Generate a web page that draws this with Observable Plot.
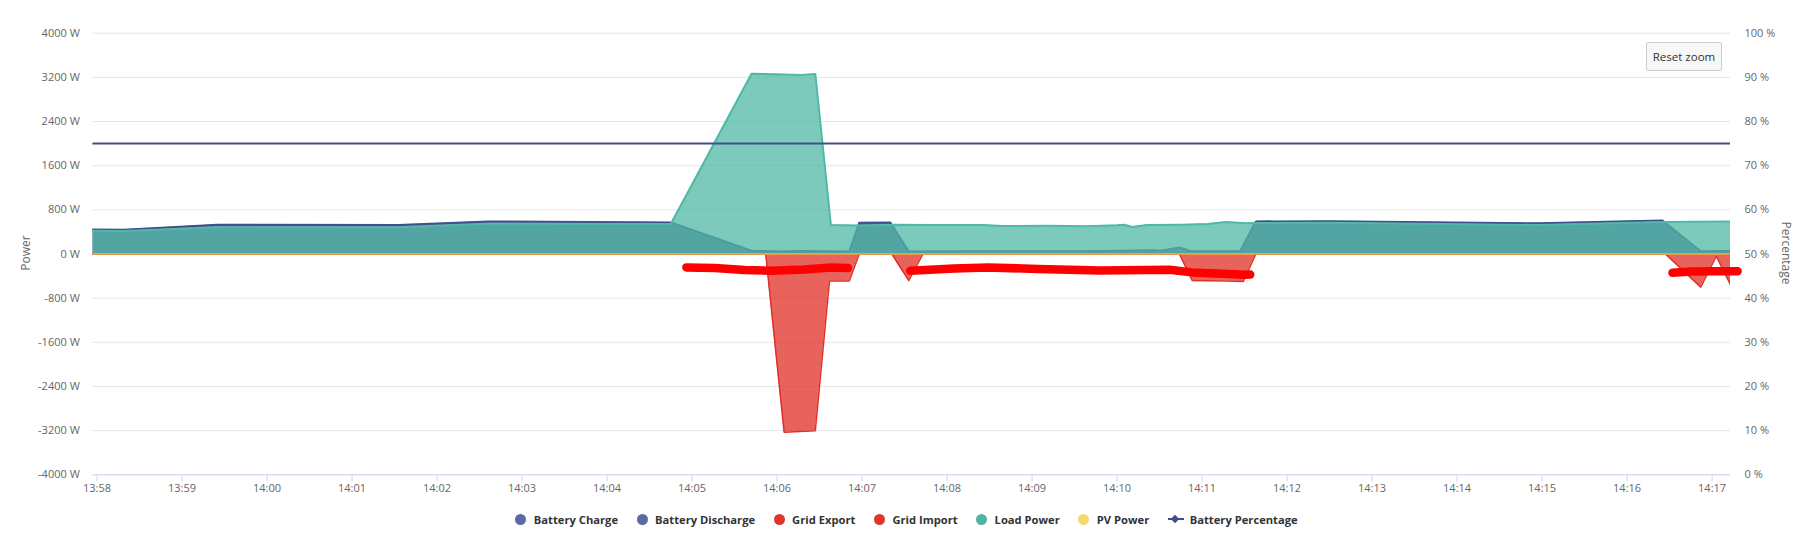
<!DOCTYPE html>
<html>
<head>
<meta charset="utf-8">
<script src="https://cdn.jsdelivr.net/npm/d3@7"></script>
<script src="https://cdn.jsdelivr.net/npm/@observablehq/plot@0.6"></script>
<style>
  html, body { margin: 0; padding: 0; background: #fff; }
  #wrap { position: relative; width: 1813px; height: 533px; font-family: "Open Sans", sans-serif; }
  #chart { position: absolute; left: 0; top: 0; }
  .ytitle { position: absolute; font-size: 12px; color: #666; white-space: nowrap; }
  #legend { position: absolute; left: 0; top: 509px; width: 1813px; height: 20px; display: flex; justify-content: center; align-items: center; }
  .item { display: flex; align-items: center; margin-right: 18.5px; font-size: 11.2px; font-weight: 700; color: #333; }
  .item:last-child { margin-right: 0; }
  .dot { width: 11px; height: 11px; border-radius: 50%; margin-right: 7.5px; }
  .sym { position: relative; width: 16px; height: 11px; margin-right: 6px; }
  .sym .ln { position: absolute; left: 0; top: 4.5px; width: 16px; height: 2px; }
  .sym .dm { position: absolute; left: 4.5px; top: 2.5px; width: 6px; height: 6px; transform: rotate(45deg); }
  #reset { position: absolute; left: 1646px; top: 42px; width: 74px; height: 27px; border: 1px solid #cccccc; border-radius: 2px; background: #f7f7f7; color: #333; font-size: 11.5px; display: flex; align-items: center; justify-content: center; }
</style>
</head>
<body>
<div id="wrap">
  <div id="chart"></div>
  <div class="ytitle" style="left:25px; top:253px; transform: translate(-50%,-50%) rotate(-90deg);">Power</div>
  <div class="ytitle" style="left:1786px; top:253px; transform: translate(-50%,-50%) rotate(90deg);">Percentage</div>
  <div id="reset">Reset zoom</div>
  <div id="legend"></div>
</div>
<script>
// ---------- data (time "HH:MM:SS", watts) ----------
const xDomain = ["13:57:57", "14:17:13"];
const xTickLabels = ["13:58","13:59","14:00","14:01","14:02","14:03","14:04","14:05","14:06","14:07","14:08","14:09","14:10","14:11","14:12","14:13","14:14","14:15","14:16","14:17"];
const yTicks = [-4000,-3200,-2400,-1600,-800,0,800,1600,2400,3200,4000];
const pctTicks = [0,10,20,30,40,50,60,70,80,90,100];

const batteryCharge = [["13:57:57",0],["14:17:14",0]];

const batteryDischarge = [
  ["13:57:57",446],["13:58:19",440],["13:59:25",530],["14:01:33",525],["14:02:36",590],
  ["14:04:45",572],["14:05:42",60],["14:06:04",46],["14:06:16",55],["14:06:51",45],
  ["14:06:58",565],["14:07:20",572],["14:07:33",45],["14:08:10",52],["14:08:50",48],
  ["14:09:38",50],["14:10:25",70],["14:10:31",60],["14:10:44",120],["14:10:52",50],
  ["14:11:27",55],["14:11:38",590],["14:12:31",595],["14:14:58",555],["14:16:25",606],
  ["14:16:52",50],["14:17:14",55]
];

const gridExport = [["13:57:57",0],["14:17:14",0]];

const gridImport = [
  ["13:57:57",0],["14:05:52",0],["14:06:05",-3230],["14:06:27",-3200],["14:06:37",-490],
  ["14:06:51",-490],["14:06:58",0],["14:07:21",0],["14:07:33",-480],["14:07:43",0],
  ["14:10:44",0],["14:10:53",-480],["14:11:17",-490],["14:11:29",-500],["14:11:38",0],
  ["14:16:27",0],["14:16:52",-600],["14:17:03",-40],["14:17:14",-610]
];

const loadPower = [
  ["13:57:57",420],["13:58:19",415],["13:59:25",485],["14:01:33",485],["14:02:36",548],
  ["14:04:45",545],["14:05:42",3265],["14:06:05",3250],["14:06:17",3245],["14:06:27",3262],
  ["14:06:38",525],["14:06:58",515],["14:07:23",530],["14:07:50",525],["14:08:25",525],
  ["14:08:39",508],["14:09:11",512],["14:09:38",502],["14:10:00",520],["14:10:05",530],
  ["14:10:11",490],["14:10:21",525],["14:10:45",530],["14:11:04",543],["14:11:17",578],
  ["14:11:31",555],["14:11:40",560],["14:12:31",565],["14:14:58",525],["14:16:25",578],
  ["14:17:14",588]
];

const pvPower = [["13:57:57",0],["14:17:14",0]];

const batteryPercentage = [["13:57:57",75],["14:17:14",75]];

// hand-drawn red marker strokes on the screenshot
const markup1 = [["14:04:56",-243],["14:05:16",-254],["14:05:37",-290],["14:05:56",-303],["14:06:19",-279],["14:06:38",-243],["14:06:50",-254]];
const markup2 = [["14:07:34",-303],["14:08:05",-261],["14:08:29",-243],["14:09:04",-272],["14:09:48",-300],["14:10:37",-285],["14:10:53",-333],["14:11:31",-375],["14:11:34",-372]];
const markup3 = [["14:16:32",-340],["14:16:45",-318],["14:17:00",-314],["14:17:18",-312]];

const legendItems = [
  {name:"Battery Charge", color:"#5b6a9f"},
  {name:"Battery Discharge", color:"#5b6a9f"},
  {name:"Grid Export", color:"#e3342c"},
  {name:"Grid Import", color:"#e3342c"},
  {name:"Load Power", color:"#4db6a2"},
  {name:"PV Power", color:"#f5d96b"},
  {name:"Battery Percentage", color:"#3f4d8a", line:true}
];

// ---------- helpers ----------
const T = s => { const [h,m,sec] = s.split(":").map(Number); return new Date(Date.UTC(2024,0,1,h,m,sec||0)); };
const pts = arr => arr.map(([t,v]) => ({t: T(t), v}));
const pctToW = p => (p - 50) * 80;

const bc = pts(batteryCharge), bd = pts(batteryDischarge), ge = pts(gridExport),
      gi = pts(gridImport), lp = pts(loadPower), pv = pts(pvPower), bp = pts(batteryPercentage);
const xTicks = xTickLabels.map(s => T(s + ":00"));

const blue = "#3f4f8b", red = "#e0302a", teal = "#4fb8a6";
const marker = {x: "t", y: "v", stroke: "#ff0000", strokeWidth: 8.5, strokeLinecap: "round", strokeLinejoin: "round"};

const chart = Plot.plot({
  width: 1813, height: 505,
  marginLeft: 92.3, marginRight: 83, marginTop: 32.7, marginBottom: 30.7,
  style: {background: "#fff", fontFamily: "'Open Sans', sans-serif", overflow: "visible"},
  x: {type: "utc", domain: [T(xDomain[0]), T(xDomain[1])]},
  y: {domain: [-4000, 4000]},
  marks: [
    Plot.gridY(yTicks, {stroke: "#e6e6e6", strokeOpacity: 1, strokeWidth: 1}),
    // Battery Charge
    Plot.lineY(bc, {x: "t", y: "v", stroke: blue, strokeWidth: 2, clip: true}),
    // Battery Discharge
    Plot.areaY(bd, {x: "t", y: "v", fill: "#263c7a", fillOpacity: 0.75, clip: true}),
    Plot.lineY(bd, {x: "t", y: "v", stroke: blue, strokeWidth: 2, clip: true}),
    // Grid Export
    Plot.lineY(ge, {x: "t", y: "v", stroke: red, strokeWidth: 2, clip: true}),
    // Grid Import
    Plot.areaY(gi, {x: "t", y: "v", fill: "#e02f24", fillOpacity: 0.75, clip: true}),
    Plot.lineY(gi, {x: "t", y: "v", stroke: red, strokeWidth: 1.5, clip: true}),
    // Load Power
    Plot.areaY(lp, {x: "t", y: "v", fill: teal, fillOpacity: 0.75, clip: true}),
    Plot.lineY(lp, {x: "t", y: "v", stroke: teal, strokeWidth: 2, clip: true}),
    // PV Power
    Plot.lineY(pv, {x: "t", y: "v", stroke: "#f2d05e", strokeOpacity: 0.65, strokeWidth: 2, clip: true}),
    // Battery Percentage (right axis)
    Plot.lineY(bp, {x: "t", y: d => pctToW(d.v), stroke: "#434f8a", strokeWidth: 2, clip: true}),
    // axes
    Plot.ruleY([-4000], {stroke: "#ccd6eb", strokeWidth: 1}),
    Plot.axisX(xTicks, {tickSize: 7, tickPadding: 2, stroke: "#ccd6eb", fill: "#666", fontSize: 11, tickFormat: d3.utcFormat("%H:%M"), label: null}),
    Plot.axisY(yTicks, {anchor: "left", tickSize: 0, tickPadding: 13, fill: "#666", fontSize: 11, tickFormat: d => d + " W", label: null}),
    Plot.axisY(pctTicks.map(pctToW), {anchor: "right", tickSize: 0, tickPadding: 14, fill: "#666", fontSize: 11, tickFormat: d => Math.round(d / 80 + 50) + " %", label: null}),
    // hand-drawn red markup
    Plot.lineY(pts(markup1), marker),
    Plot.lineY(pts(markup2), marker),
    Plot.lineY(pts(markup3), marker)
  ]
});
document.getElementById("chart").appendChild(chart);

// legend
const lg = document.getElementById("legend");
for (const it of legendItems) {
  const el = document.createElement("div");
  el.className = "item";
  if (it.line) {
    el.innerHTML = `<span class="sym"><span class="ln" style="background:${it.color}"></span><span class="dm" style="background:${it.color}"></span></span><span>${it.name}</span>`;
  } else {
    el.innerHTML = `<span class="dot" style="background:${it.color}"></span><span>${it.name}</span>`;
  }
  lg.appendChild(el);
}
</script>
</body>
</html>
